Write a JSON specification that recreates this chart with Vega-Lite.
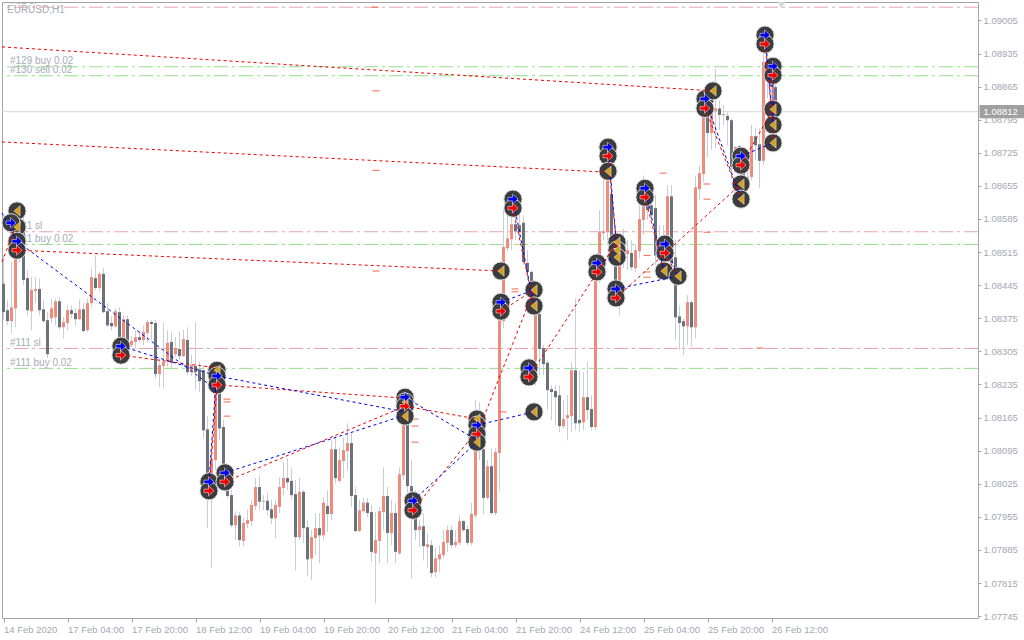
{
"$schema":"https://vega.github.io/schema/vega-lite/v6.json",
"width":976,"height":616,"autosize":"none",
"padding":{"left":2,"top":2,"right":46,"bottom":22},
"background":"#ffffff",
"config":{"view":{"stroke":"#a4a4a4","strokeWidth":1},"axis":{"grid":false,"domain":false,"title":null,"tickColor":"#a4a4a4","labelColor":"#a2a8b2","labelFont":"Liberation Sans","labelFontSize":9.5,"labelOverlap":false,"labelBound":false,"labelFlush":false},"axisY":{"tickSize":3,"labelPadding":2},"axisX":{"tickSize":4,"labelPadding":2,"labelAlign":"left","labelBaseline":"top"}},
"datasets":{
"bars":[
{"i":0,"o":1.08448,"h":1.08508,"l":1.08371,"c":1.08388},{"i":1,"o":1.08392,"h":1.08413,"l":1.0836,"c":1.08369},{"i":2,"o":1.08369,"h":1.08494,"l":1.08344,"c":1.08398},{"i":3,"o":1.08396,"h":1.08593,"l":1.08356,"c":1.08513},{"i":4,"o":1.08508,"h":1.08593,"l":1.08494,"c":1.08557},{"i":5,"o":1.08577,"h":1.08614,"l":1.08445,"c":1.08456},{"i":6,"o":1.0846,"h":1.08477,"l":1.08381,"c":1.08392},{"i":7,"o":1.0839,"h":1.08462,"l":1.0835,"c":1.08435},{"i":8,"o":1.08433,"h":1.08462,"l":1.08407,"c":1.08437},{"i":9,"o":1.08437,"h":1.08458,"l":1.08381,"c":1.08392},
{"i":10,"o":1.08394,"h":1.08413,"l":1.08365,"c":1.08369},{"i":11,"o":1.08371,"h":1.08388,"l":1.08291,"c":1.08299},{"i":12,"o":1.08375,"h":1.08417,"l":1.08365,"c":1.08396},{"i":13,"o":1.08377,"h":1.08417,"l":1.0836,"c":1.08411},{"i":14,"o":1.08411,"h":1.08419,"l":1.0835,"c":1.08356},{"i":15,"o":1.08356,"h":1.08377,"l":1.08333,"c":1.08367},{"i":16,"o":1.08365,"h":1.08402,"l":1.0835,"c":1.08392},{"i":17,"o":1.08392,"h":1.08402,"l":1.08375,"c":1.08384},{"i":18,"o":1.08386,"h":1.08396,"l":1.0836,"c":1.08373},{"i":19,"o":1.08373,"h":1.08415,"l":1.08371,"c":1.08394},
{"i":20,"o":1.08394,"h":1.08407,"l":1.08346,"c":1.08348},{"i":21,"o":1.0835,"h":1.08417,"l":1.08346,"c":1.08407},{"i":22,"o":1.08407,"h":1.08481,"l":1.08398,"c":1.08462},{"i":23,"o":1.0846,"h":1.08508,"l":1.08435,"c":1.08439},{"i":24,"o":1.08439,"h":1.08473,"l":1.08431,"c":1.08469},{"i":25,"o":1.08469,"h":1.08481,"l":1.08386,"c":1.08388},{"i":26,"o":1.0839,"h":1.08407,"l":1.08356,"c":1.0836},{"i":27,"o":1.08365,"h":1.08379,"l":1.0835,"c":1.08358},{"i":28,"o":1.08358,"h":1.08396,"l":1.08354,"c":1.0839},{"i":29,"o":1.08388,"h":1.08398,"l":1.08323,"c":1.08329},
{"i":30,"o":1.08291,"h":1.08381,"l":1.08287,"c":1.08373},{"i":31,"o":1.08373,"h":1.08381,"l":1.08304,"c":1.08314},{"i":32,"o":1.08318,"h":1.08337,"l":1.08314,"c":1.08327},{"i":33,"o":1.08325,"h":1.0835,"l":1.08312,"c":1.08335},{"i":34,"o":1.08335,"h":1.0835,"l":1.08325,"c":1.08329},{"i":35,"o":1.08329,"h":1.0836,"l":1.08318,"c":1.08346},{"i":36,"o":1.08344,"h":1.08371,"l":1.08325,"c":1.08367},{"i":37,"o":1.08367,"h":1.08371,"l":1.08329,"c":1.08363},{"i":38,"o":1.08365,"h":1.08371,"l":1.08248,"c":1.08257},{"i":39,"o":1.08257,"h":1.08291,"l":1.08229,"c":1.08276},
{"i":40,"o":1.08274,"h":1.08365,"l":1.08227,"c":1.08283},{"i":41,"o":1.08283,"h":1.0835,"l":1.08272,"c":1.08323},{"i":42,"o":1.08325,"h":1.08346,"l":1.0827,"c":1.08281},{"i":43,"o":1.08299,"h":1.08335,"l":1.08293,"c":1.08312},{"i":44,"o":1.0831,"h":1.08346,"l":1.08287,"c":1.08295},{"i":45,"o":1.08295,"h":1.0835,"l":1.08293,"c":1.08331},{"i":46,"o":1.08329,"h":1.08356,"l":1.08255,"c":1.08261},{"i":47,"o":1.08261,"h":1.08297,"l":1.08253,"c":1.08276},{"i":48,"o":1.08274,"h":1.08367,"l":1.08223,"c":1.08261},{"i":49,"o":1.08267,"h":1.08283,"l":1.08219,"c":1.08242},
{"i":50,"o":1.08265,"h":1.08276,"l":1.08121,"c":1.08138},{"i":51,"o":1.0814,"h":1.08168,"l":1.07931,"c":1.08022},{"i":52,"o":1.08018,"h":1.08117,"l":1.07848,"c":1.08077},{"i":53,"o":1.08075,"h":1.08255,"l":1.08054,"c":1.08231},{"i":54,"o":1.08223,"h":1.08261,"l":1.08117,"c":1.08142},{"i":55,"o":1.08145,"h":1.0816,"l":1.08037,"c":1.08048},{"i":56,"o":1.08033,"h":1.08043,"l":1.07995,"c":1.07999},{"i":57,"o":1.08001,"h":1.08012,"l":1.07933,"c":1.07937},{"i":58,"o":1.07937,"h":1.07967,"l":1.07906,"c":1.07958},{"i":59,"o":1.07958,"h":1.07965,"l":1.07893,"c":1.07906},
{"i":60,"o":1.07904,"h":1.07954,"l":1.07893,"c":1.07942},{"i":61,"o":1.0794,"h":1.07971,"l":1.07931,"c":1.07948},{"i":62,"o":1.07946,"h":1.07991,"l":1.07935,"c":1.0798},{"i":63,"o":1.07978,"h":1.08037,"l":1.07969,"c":1.08018},{"i":64,"o":1.08018,"h":1.08043,"l":1.07969,"c":1.07987},{"i":65,"o":1.07987,"h":1.08001,"l":1.07969,"c":1.07989},{"i":66,"o":1.07989,"h":1.08006,"l":1.07958,"c":1.07969},{"i":67,"o":1.07971,"h":1.07991,"l":1.0794,"c":1.07952},{"i":68,"o":1.07952,"h":1.07991,"l":1.0791,"c":1.0798},{"i":69,"o":1.07976,"h":1.08039,"l":1.07963,"c":1.08018},
{"i":70,"o":1.08016,"h":1.08071,"l":1.08001,"c":1.08037},{"i":71,"o":1.08037,"h":1.08079,"l":1.08012,"c":1.08028},{"i":72,"o":1.08031,"h":1.08058,"l":1.07991,"c":1.08001},{"i":73,"o":1.08003,"h":1.08033,"l":1.07842,"c":1.07912},{"i":74,"o":1.07912,"h":1.08037,"l":1.07906,"c":1.08008},{"i":75,"o":1.08008,"h":1.08012,"l":1.079,"c":1.07931},{"i":76,"o":1.07933,"h":1.07948,"l":1.07831,"c":1.07865},{"i":77,"o":1.07867,"h":1.07927,"l":1.07821,"c":1.07912},{"i":78,"o":1.0791,"h":1.07963,"l":1.07874,"c":1.07931},{"i":79,"o":1.07931,"h":1.07963,"l":1.07857,"c":1.07916},
{"i":80,"o":1.07916,"h":1.07997,"l":1.07906,"c":1.07985},{"i":81,"o":1.07978,"h":1.08012,"l":1.07923,"c":1.07961},{"i":82,"o":1.07961,"h":1.08117,"l":1.07948,"c":1.08098},{"i":83,"o":1.08098,"h":1.08127,"l":1.08026,"c":1.08037},{"i":84,"o":1.08031,"h":1.08102,"l":1.08026,"c":1.08075},{"i":85,"o":1.08073,"h":1.08123,"l":1.08037,"c":1.08096},{"i":86,"o":1.08094,"h":1.08153,"l":1.08054,"c":1.08111},{"i":87,"o":1.08111,"h":1.08132,"l":1.07976,"c":1.07999},{"i":88,"o":1.08001,"h":1.08018,"l":1.07923,"c":1.07925},{"i":89,"o":1.07925,"h":1.07991,"l":1.07923,"c":1.07969},
{"i":90,"o":1.07967,"h":1.07995,"l":1.07963,"c":1.07985},{"i":91,"o":1.07985,"h":1.07995,"l":1.07954,"c":1.07963},{"i":92,"o":1.07965,"h":1.0798,"l":1.07859,"c":1.07881},{"i":93,"o":1.07878,"h":1.07965,"l":1.07772,"c":1.07906},{"i":94,"o":1.07904,"h":1.07976,"l":1.07857,"c":1.07967},{"i":95,"o":1.07965,"h":1.0806,"l":1.07927,"c":1.07999},{"i":96,"o":1.07999,"h":1.08018,"l":1.07857,"c":1.07921},{"i":97,"o":1.07921,"h":1.07991,"l":1.07895,"c":1.07963},{"i":98,"o":1.07963,"h":1.07985,"l":1.07857,"c":1.07881},{"i":99,"o":1.07878,"h":1.0806,"l":1.07874,"c":1.08045},
{"i":100,"o":1.08043,"h":1.08191,"l":1.08033,"c":1.08174},{"i":101,"o":1.0816,"h":1.08181,"l":1.08001,"c":1.0802},{"i":102,"o":1.0802,"h":1.08075,"l":1.07825,"c":1.07965},{"i":103,"o":1.07965,"h":1.08012,"l":1.07906,"c":1.07927},{"i":104,"o":1.07927,"h":1.07948,"l":1.07891,"c":1.07935},{"i":105,"o":1.07935,"h":1.07963,"l":1.07863,"c":1.07893},{"i":106,"o":1.07891,"h":1.07921,"l":1.07848,"c":1.07897},{"i":107,"o":1.07895,"h":1.07906,"l":1.07827,"c":1.07836},{"i":108,"o":1.07838,"h":1.07891,"l":1.07827,"c":1.07867},{"i":109,"o":1.07865,"h":1.07895,"l":1.07838,"c":1.07876},
{"i":110,"o":1.07874,"h":1.07927,"l":1.07867,"c":1.07902},{"i":111,"o":1.079,"h":1.07937,"l":1.07881,"c":1.07927},{"i":112,"o":1.07927,"h":1.07937,"l":1.07889,"c":1.07895},{"i":113,"o":1.07895,"h":1.07927,"l":1.07889,"c":1.07902},{"i":114,"o":1.079,"h":1.07958,"l":1.07895,"c":1.07946},{"i":115,"o":1.07946,"h":1.07948,"l":1.07923,"c":1.07927},{"i":116,"o":1.07929,"h":1.07937,"l":1.07895,"c":1.079},{"i":117,"o":1.079,"h":1.07985,"l":1.07895,"c":1.07961},{"i":118,"o":1.07958,"h":1.08202,"l":1.07952,"c":1.08149},{"i":119,"o":1.08149,"h":1.08198,"l":1.08075,"c":1.08098},
{"i":120,"o":1.08098,"h":1.08127,"l":1.07961,"c":1.07995},{"i":121,"o":1.07995,"h":1.08075,"l":1.07991,"c":1.08062},{"i":122,"o":1.08062,"h":1.081,"l":1.07961,"c":1.07963},{"i":123,"o":1.07963,"h":1.081,"l":1.07958,"c":1.08092},{"i":124,"o":1.0809,"h":1.08424,"l":1.08008,"c":1.08371},{"i":125,"o":1.08369,"h":1.08604,"l":1.08354,"c":1.08526},{"i":126,"o":1.08523,"h":1.08614,"l":1.08515,"c":1.08544},{"i":127,"o":1.08542,"h":1.08599,"l":1.08519,"c":1.08574},{"i":128,"o":1.08574,"h":1.08636,"l":1.0854,"c":1.08559},{"i":129,"o":1.08572,"h":1.08604,"l":1.0854,"c":1.08557},
{"i":130,"o":1.08577,"h":1.08593,"l":1.08488,"c":1.08494},{"i":131,"o":1.08492,"h":1.08519,"l":1.08456,"c":1.08473},{"i":132,"o":1.08473,"h":1.08477,"l":1.08402,"c":1.08413},{"i":133,"o":1.08285,"h":1.08413,"l":1.08233,"c":1.08384},{"i":134,"o":1.08384,"h":1.08392,"l":1.08255,"c":1.0831},{"i":135,"o":1.08312,"h":1.08318,"l":1.08255,"c":1.08278},{"i":136,"o":1.08281,"h":1.08287,"l":1.08181,"c":1.08223},{"i":137,"o":1.08225,"h":1.08233,"l":1.0816,"c":1.08219},{"i":138,"o":1.08221,"h":1.08233,"l":1.08149,"c":1.08208},{"i":139,"o":1.08212,"h":1.08233,"l":1.08134,"c":1.08147},
{"i":140,"o":1.08147,"h":1.08202,"l":1.08142,"c":1.08162},{"i":141,"o":1.08164,"h":1.08212,"l":1.08117,"c":1.0817},{"i":142,"o":1.08168,"h":1.08283,"l":1.08134,"c":1.08265},{"i":143,"o":1.08265,"h":1.08417,"l":1.08138,"c":1.08153},{"i":144,"o":1.0816,"h":1.08265,"l":1.08134,"c":1.08153},{"i":145,"o":1.08155,"h":1.08261,"l":1.08138,"c":1.08208},{"i":146,"o":1.08208,"h":1.08283,"l":1.0816,"c":1.08181},{"i":147,"o":1.08183,"h":1.08212,"l":1.08138,"c":1.08145},{"i":148,"o":1.08145,"h":1.08502,"l":1.08138,"c":1.08462},{"i":149,"o":1.08462,"h":1.08604,"l":1.0845,"c":1.08557},
{"i":150,"o":1.08555,"h":1.08677,"l":1.0854,"c":1.08559},{"i":151,"o":1.08557,"h":1.08699,"l":1.0854,"c":1.08667},{"i":152,"o":1.08638,"h":1.08667,"l":1.08498,"c":1.0853},{"i":153,"o":1.0853,"h":1.08572,"l":1.08413,"c":1.08435},{"i":154,"o":1.0842,"h":1.08523,"l":1.08381,"c":1.08498},{"i":155,"o":1.08523,"h":1.08565,"l":1.08481,"c":1.08513},{"i":156,"o":1.08511,"h":1.0854,"l":1.08477,"c":1.08519},{"i":157,"o":1.08513,"h":1.0854,"l":1.08477,"c":1.08483},{"i":158,"o":1.08481,"h":1.0853,"l":1.08473,"c":1.08519},{"i":159,"o":1.08517,"h":1.08614,"l":1.08502,"c":1.08585},
{"i":160,"o":1.08583,"h":1.08677,"l":1.08551,"c":1.08625},{"i":161,"o":1.08625,"h":1.08646,"l":1.08583,"c":1.08604},{"i":162,"o":1.08614,"h":1.08646,"l":1.08583,"c":1.08593},{"i":163,"o":1.08608,"h":1.08636,"l":1.08488,"c":1.08508},{"i":164,"o":1.08508,"h":1.08572,"l":1.08502,"c":1.08536},{"i":165,"o":1.0854,"h":1.08572,"l":1.08488,"c":1.08498},{"i":166,"o":1.08515,"h":1.08657,"l":1.08508,"c":1.08633},{"i":167,"o":1.08633,"h":1.08657,"l":1.08488,"c":1.08492},{"i":168,"o":1.08504,"h":1.0854,"l":1.08329,"c":1.08377},{"i":169,"o":1.08379,"h":1.08402,"l":1.08308,"c":1.08365},
{"i":170,"o":1.08369,"h":1.08375,"l":1.08297,"c":1.08358},{"i":171,"o":1.08358,"h":1.08424,"l":1.08318,"c":1.08409},{"i":172,"o":1.08409,"h":1.08413,"l":1.08314,"c":1.08356},{"i":173,"o":1.08356,"h":1.08677,"l":1.08333,"c":1.08652},{"i":174,"o":1.08648,"h":1.08699,"l":1.08625,"c":1.08682},{"i":175,"o":1.0868,"h":1.08826,"l":1.08663,"c":1.08811},{"i":176,"o":1.08811,"h":1.08826,"l":1.08716,"c":1.08767},{"i":177,"o":1.08767,"h":1.08836,"l":1.08731,"c":1.08815},{"i":178,"o":1.08813,"h":1.08902,"l":1.08735,"c":1.08819},{"i":179,"o":1.08819,"h":1.08836,"l":1.08773,"c":1.08805},
{"i":180,"o":1.08805,"h":1.08826,"l":1.08784,"c":1.08807},{"i":181,"o":1.08803,"h":1.08811,"l":1.08741,"c":1.08794},{"i":182,"o":1.08794,"h":1.08798,"l":1.08672,"c":1.08695},{"i":183,"o":1.08695,"h":1.08739,"l":1.08688,"c":1.08737},{"i":184,"o":1.08739,"h":1.08741,"l":1.08667,"c":1.08682},{"i":185,"o":1.08725,"h":1.08731,"l":1.08625,"c":1.08667},{"i":186,"o":1.08663,"h":1.08684,"l":1.08646,"c":1.08674},{"i":187,"o":1.08674,"h":1.08784,"l":1.08667,"c":1.0876},{"i":188,"o":1.0876,"h":1.08777,"l":1.0871,"c":1.08741},{"i":189,"o":1.08743,"h":1.08777,"l":1.0865,"c":1.08708},
{"i":190,"o":1.08708,"h":1.08963,"l":1.08699,"c":1.08917},{"i":191,"o":1.08917,"h":1.08942,"l":1.08841,"c":1.08889},{"i":192,"o":1.08889,"h":1.089,"l":1.08826,"c":1.08864},{"i":193,"o":1.08864,"h":1.0887,"l":1.08731,"c":1.08812}
],
"levels":[{"p":1.09033,"k":"sl"},{"p":1.08907,"k":"tp"},{"p":1.08888,"k":"tp"},{"p":1.08558,"k":"sl"},{"p":1.08531,"k":"tp"},{"p":1.08311,"k":"sl"},{"p":1.08269,"k":"tp"}],
"trades":[
{"s":"r1","k":"red","i":-0.375,"p":1.08949},{"s":"r1","k":"red","i":177.375,"p":1.08856},
{"s":"r2","k":"red","i":-0.375,"p":1.08748},{"s":"r2","k":"red","i":151.125,"p":1.08684},
{"s":"r3","k":"red","i":3.375,"p":1.08519},{"s":"r3","k":"red","i":124.375,"p":1.08475},
{"s":"r4","k":"red","i":29.375,"p":1.08297},{"s":"r4","k":"red","i":53.375,"p":1.0827},
{"s":"r5","k":"red","i":51.375,"p":1.0801},{"s":"r5","k":"red","i":53.375,"p":1.08234},
{"s":"r6","k":"red","i":53.375,"p":1.08234},{"s":"r6","k":"red","i":100.375,"p":1.08206},
{"s":"r7","k":"red","i":55.375,"p":1.08029},{"s":"r7","k":"red","i":100.375,"p":1.08189},
{"s":"r8","k":"red","i":100.375,"p":1.08189},{"s":"r8","k":"red","i":118.375,"p":1.08162},
{"s":"r9","k":"red","i":102.375,"p":1.07969},{"s":"r9","k":"red","i":118.375,"p":1.08138},
{"s":"r10","k":"red","i":118.375,"p":1.0813},{"s":"r10","k":"red","i":132.625,"p":1.08435},
{"s":"r11","k":"red","i":124.375,"p":1.0839},{"s":"r11","k":"red","i":132.625,"p":1.08435},
{"s":"r12","k":"red","i":127.375,"p":1.08608},{"s":"r12","k":"red","i":132.625,"p":1.08401},
{"s":"r13","k":"red","i":131.375,"p":1.08251},{"s":"r13","k":"red","i":153.375,"p":1.08536},
{"s":"r14","k":"red","i":148.375,"p":1.08473},{"s":"r14","k":"red","i":153.375,"p":1.08536},
{"s":"r15","k":"red","i":151.125,"p":1.08718},{"s":"r15","k":"red","i":153.375,"p":1.08519},
{"s":"r16","k":"red","i":153.125,"p":1.08418},{"s":"r16","k":"red","i":184.375,"p":1.08659},
{"s":"r17","k":"red","i":160.375,"p":1.08631},{"s":"r17","k":"red","i":165.125,"p":1.08475},
{"s":"r18","k":"red","i":165.375,"p":1.08513},{"s":"r18","k":"red","i":168.625,"p":1.08464},
{"s":"r19","k":"red","i":175.375,"p":1.08819},{"s":"r19","k":"red","i":184.375,"p":1.08627},
{"s":"r20","k":"red","i":184.375,"p":1.08699},{"s":"r20","k":"red","i":192.375,"p":1.08817},
{"s":"r21","k":"red","i":190.375,"p":1.08955},{"s":"r21","k":"red","i":192.375,"p":1.08784},
{"s":"r22","k":"red","i":192.375,"p":1.08889},{"s":"r22","k":"red","i":192.375,"p":1.08746},
{"s":"r23","k":"red","i":-0.375,"p":1.08494},{"s":"r23","k":"red","i":3.375,"p":1.08578},
{"s":"b1","k":"blue","i":3.375,"p":1.08538},{"s":"b1","k":"blue","i":53.375,"p":1.08223},
{"s":"b2","k":"blue","i":29.375,"p":1.08316},{"s":"b2","k":"blue","i":53.375,"p":1.08253},
{"s":"b3","k":"blue","i":51.375,"p":1.08029},{"s":"b3","k":"blue","i":53.375,"p":1.0827},
{"s":"b4","k":"blue","i":53.375,"p":1.08253},{"s":"b4","k":"blue","i":100.375,"p":1.08177},
{"s":"b5","k":"blue","i":55.375,"p":1.08048},{"s":"b5","k":"blue","i":100.375,"p":1.0817},
{"s":"b6","k":"blue","i":100.375,"p":1.08208},{"s":"b6","k":"blue","i":118.375,"p":1.08117},
{"s":"b7","k":"blue","i":102.375,"p":1.07989},{"s":"b7","k":"blue","i":118.375,"p":1.08113},
{"s":"b8","k":"blue","i":118.375,"p":1.08149},{"s":"b8","k":"blue","i":132.625,"p":1.08177},
{"s":"b9","k":"blue","i":124.375,"p":1.08409},{"s":"b9","k":"blue","i":132.625,"p":1.08435},
{"s":"b10","k":"blue","i":127.375,"p":1.08627},{"s":"b10","k":"blue","i":132.625,"p":1.08401},
{"s":"b11","k":"blue","i":148.375,"p":1.08492},{"s":"b11","k":"blue","i":153.375,"p":1.08504},
{"s":"b12","k":"blue","i":151.125,"p":1.08737},{"s":"b12","k":"blue","i":153.375,"p":1.08519},
{"s":"b13","k":"blue","i":153.125,"p":1.08437},{"s":"b13","k":"blue","i":168.625,"p":1.08464},
{"s":"b14","k":"blue","i":160.375,"p":1.0865},{"s":"b14","k":"blue","i":165.125,"p":1.08475},
{"s":"b15","k":"blue","i":165.375,"p":1.08532},{"s":"b15","k":"blue","i":168.625,"p":1.08464},
{"s":"b16","k":"blue","i":175.375,"p":1.08839},{"s":"b16","k":"blue","i":184.375,"p":1.08627},
{"s":"b17","k":"blue","i":184.375,"p":1.08718},{"s":"b17","k":"blue","i":192.375,"p":1.08746},
{"s":"b18","k":"blue","i":190.375,"p":1.08974},{"s":"b18","k":"blue","i":192.375,"p":1.08784},
{"s":"b19","k":"blue","i":192.375,"p":1.08908},{"s":"b19","k":"blue","i":192.375,"p":1.08784},
{"s":"b20","k":"blue","i":-0.375,"p":1.08598},{"s":"b20","k":"blue","i":3.375,"p":1.08538}
],
"icons":[
{"k":"gold","i":3.375,"p":1.08602},{"k":"gold","i":3.375,"p":1.08568},{"k":"blue","i":1.875,"p":1.08577},{"k":"blue","i":3.375,"p":1.08538},{"k":"red","i":3.375,"p":1.08519},
{"k":"blue","i":29.375,"p":1.08316},{"k":"red","i":29.375,"p":1.08297},
{"k":"gold","i":53.375,"p":1.08265},{"k":"blue","i":53.375,"p":1.08253},{"k":"red","i":53.375,"p":1.08234},
{"k":"blue","i":51.375,"p":1.08029},{"k":"red","i":51.375,"p":1.0801},{"k":"blue","i":55.375,"p":1.08048},{"k":"red","i":55.375,"p":1.08029},
{"k":"blue","i":100.375,"p":1.08208},{"k":"gold","i":100.375,"p":1.08198},{"k":"red","i":100.375,"p":1.08189},{"k":"gold","i":100.375,"p":1.08168},
{"k":"blue","i":102.375,"p":1.07989},{"k":"red","i":102.375,"p":1.07969},
{"k":"gold","i":118.375,"p":1.08162},{"k":"blue","i":118.375,"p":1.08149},{"k":"red","i":118.375,"p":1.0813},{"k":"gold","i":118.375,"p":1.08113},
{"k":"gold","i":124.375,"p":1.08475},{"k":"blue","i":124.375,"p":1.08409},{"k":"red","i":124.375,"p":1.0839},
{"k":"blue","i":127.375,"p":1.08627},{"k":"red","i":127.375,"p":1.08608},
{"k":"gold","i":132.625,"p":1.08435},{"k":"gold","i":132.625,"p":1.08401},{"k":"gold","i":132.625,"p":1.08177},
{"k":"blue","i":131.375,"p":1.0827},{"k":"red","i":131.375,"p":1.08251},
{"k":"blue","i":148.375,"p":1.08492},{"k":"red","i":148.375,"p":1.08473},
{"k":"blue","i":151.125,"p":1.08737},{"k":"red","i":151.125,"p":1.08718},{"k":"gold","i":151.125,"p":1.08686},
{"k":"gold","i":153.375,"p":1.08536},{"k":"gold","i":153.375,"p":1.08519},{"k":"gold","i":153.375,"p":1.08504},
{"k":"blue","i":153.125,"p":1.08437},{"k":"red","i":153.125,"p":1.08418},
{"k":"blue","i":160.375,"p":1.0865},{"k":"red","i":160.375,"p":1.08631},
{"k":"blue","i":165.375,"p":1.08532},{"k":"red","i":165.375,"p":1.08513},{"k":"gold","i":165.125,"p":1.08475},{"k":"gold","i":168.625,"p":1.08464},
{"k":"blue","i":175.375,"p":1.08839},{"k":"red","i":175.375,"p":1.08819},{"k":"gold","i":177.375,"p":1.08856},
{"k":"blue","i":184.375,"p":1.08718},{"k":"red","i":184.375,"p":1.08699},{"k":"gold","i":184.375,"p":1.08659},{"k":"gold","i":184.375,"p":1.08627},
{"k":"blue","i":190.375,"p":1.08974},{"k":"red","i":190.375,"p":1.08955},
{"k":"blue","i":192.375,"p":1.08908},{"k":"red","i":192.375,"p":1.08889},{"k":"gold","i":192.375,"p":1.08817},{"k":"gold","i":192.375,"p":1.08784},{"k":"gold","i":192.375,"p":1.08746}
],
"dashes":[
{"i":93.125,"p":1.08856},{"i":93.125,"p":1.08688},{"i":93.125,"p":1.08475},{"i":55.875,"p":1.08204},{"i":55.875,"p":1.08198},{"i":55.875,"p":1.08168},{"i":102.875,"p":1.08162},{"i":102.875,"p":1.08147},{"i":102.875,"p":1.08113},{"i":127.875,"p":1.08437},{"i":127.875,"p":1.08431},{"i":124.875,"p":1.08177},{"i":160.875,"p":1.08508},{"i":160.875,"p":1.08473},{"i":160.875,"p":1.08462},{"i":175.875,"p":1.08659},{"i":175.875,"p":1.08627},{"i":175.875,"p":1.08557},{"i":151.875,"p":1.08536},{"i":151.875,"p":1.08502},{"i":164.875,"p":1.08682},{"i":189.125,"p":1.08312},{"i":92.875,"p":1.09033}
],
"labels":[
{"i":0.875,"p":1.09027,"t":"EURUSD,H1"},{"i":1.625,"p":1.09046,"t":"#62 sl"},{"i":1.625,"p":1.08919,"t":"#129 buy 0.02"},{"i":1.625,"p":1.089,"t":"#130 sell 0.02"},{"i":1.625,"p":1.0857,"t":"#131 sl"},{"i":1.625,"p":1.08542,"t":"#131 buy 0.02"},{"i":1.625,"p":1.08322,"t":"#111 sl"},{"i":1.625,"p":1.0828,"t":"#111 buy 0.02"}
],
"price":[{"i":244,"i2":256,"p":1.08826,"p2":1.08798}],
"priceText":[{"i":245,"p":1.08812,"t":"1.08812"}],
"marker":[{"i":194.5,"p":1.09037}]
},
"layer":[
{"data":{"name":"levels"},"transform":[{"filter":"datum.k=='sl'"}],"mark":{"type":"rule","stroke":"#e9a3ad","strokeWidth":1,"strokeDash":[14,4,3,4]},
 "encoding":{"y":{"field":"p","type":"quantitative","scale":{"domain":[1.07741,1.09044],"nice":false,"zero":false},"axis":{"orient":"right","format":".5f","values":[1.09005,1.08935,1.08865,1.08795,1.08725,1.08655,1.08585,1.08515,1.08445,1.08375,1.08305,1.08235,1.08165,1.08095,1.08025,1.07955,1.07885,1.07815,1.07745]}}}},
{"data":{"name":"levels"},"transform":[{"filter":"datum.k=='tp'"}],"mark":{"type":"rule","stroke":"#93e08a","strokeWidth":1,"strokeDash":[14,4,3,4]},
 "encoding":{"y":{"field":"p","type":"quantitative","scale":{"domain":[1.07741,1.09044],"nice":false,"zero":false},"axis":{"orient":"right","format":".5f","values":[1.09005,1.08935,1.08865,1.08795,1.08725,1.08655,1.08585,1.08515,1.08445,1.08375,1.08305,1.08235,1.08165,1.08095,1.08025,1.07955,1.07885,1.07815,1.07745]}}}},
{"data":{"values":[{"p":1.08812}]},"mark":{"type":"rule","stroke":"#d4d6d8","strokeWidth":1},
 "encoding":{"y":{"field":"p","type":"quantitative","scale":{"domain":[1.07741,1.09044],"nice":false,"zero":false},"axis":{"orient":"right","format":".5f","values":[1.09005,1.08935,1.08865,1.08795,1.08725,1.08655,1.08585,1.08515,1.08445,1.08375,1.08305,1.08235,1.08165,1.08095,1.08025,1.07955,1.07885,1.07815,1.07745]}}}},
{"encoding":{
 "x":{"field":"i","type":"quantitative","scale":{"domain":[-0.375,243.625],"nice":false,"zero":false,"padding":0},"axis":{"orient":"bottom","values":[0,16,32,48,64,80,96,112,128,144,160,176,192],"labelExpr":"['14 Feb 2020','17 Feb 04:00','17 Feb 20:00','18 Feb 12:00','19 Feb 04:00','19 Feb 20:00','20 Feb 12:00','21 Feb 04:00','21 Feb 20:00','24 Feb 12:00','25 Feb 04:00','25 Feb 20:00','26 Feb 12:00'][datum.value/16]"}},
 "y":{"field":"p","type":"quantitative","scale":{"domain":[1.07741,1.09044],"nice":false,"zero":false},"axis":{"orient":"right","format":".5f","values":[1.09005,1.08935,1.08865,1.08795,1.08725,1.08655,1.08585,1.08515,1.08445,1.08375,1.08305,1.08235,1.08165,1.08095,1.08025,1.07955,1.07885,1.07815,1.07745]}}},
 "layer":[
 {"data":{"name":"bars"},"mark":{"type":"rule","stroke":"#c9cdd8","strokeWidth":1},
  "encoding":{"y":{"field":"h","type":"quantitative","scale":{"domain":[1.07741,1.09044],"nice":false,"zero":false},"axis":{"orient":"right","format":".5f","values":[1.09005,1.08935,1.08865,1.08795,1.08725,1.08655,1.08585,1.08515,1.08445,1.08375,1.08305,1.08235,1.08165,1.08095,1.08025,1.07955,1.07885,1.07815,1.07745]}},"y2":{"field":"l"}}},
 {"data":{"name":"bars"},"mark":{"type":"bar","size":3,"orient":"vertical"},
  "encoding":{"y":{"field":"o","type":"quantitative","scale":{"domain":[1.07741,1.09044],"nice":false,"zero":false},"axis":{"orient":"right","format":".5f","values":[1.09005,1.08935,1.08865,1.08795,1.08725,1.08655,1.08585,1.08515,1.08445,1.08375,1.08305,1.08235,1.08165,1.08095,1.08025,1.07955,1.07885,1.07815,1.07745]}},"y2":{"field":"c"},
  "color":{"condition":{"test":"datum.c>=datum.o","value":"#ee8b7c"},"value":"#6b7279"}}},
 {"data":{"name":"labels"},"mark":{"type":"text","align":"left","baseline":"middle","font":"Liberation Sans","fontSize":10,"fill":"#a6acb6","clip":true},"encoding":{"text":{"field":"t"}}},
 {"data":{"name":"dashes"},"mark":{"type":"tick","orient":"horizontal","size":7,"thickness":1,"color":"#f2654c","opacity":1}},
 {"data":{"name":"icons"},"mark":{"type":"point","shape":"circle","size":330,"filled":true,"fill":"#3c3c3c","stroke":"#dcdde4","strokeWidth":1,"opacity":1}},
 {"data":{"name":"trades"},"transform":[{"filter":"datum.k=='red'"}],"mark":{"type":"line","stroke":"#f00000","strokeWidth":1,"strokeDash":[3,3]},"encoding":{"detail":{"field":"s"}}},
 {"data":{"name":"trades"},"transform":[{"filter":"datum.k=='blue'"}],"mark":{"type":"line","stroke":"#0000e6","strokeWidth":1,"strokeDash":[3,3]},"encoding":{"detail":{"field":"s"}}},
 {"data":{"name":"icons"},"transform":[{"filter":"datum.k=='gold'"}],"mark":{"type":"point","shape":"M-0.6,0L0.6,-1L0.6,1Z","size":110,"filled":true,"fill":"#d4a022","stroke":"#ffffff","strokeWidth":0.4,"opacity":1}},
 {"data":{"name":"icons"},"transform":[{"filter":"datum.k=='blue'"}],"mark":{"type":"point","shape":"M-1,-0.35L-0.1,-0.35L-0.1,-1L1,0L-0.1,1L-0.1,0.35L-1,0.35Z","size":100,"filled":true,"fill":"#0000f0","stroke":"#ffffff","strokeWidth":0.5,"opacity":1}},
 {"data":{"name":"icons"},"transform":[{"filter":"datum.k=='red'"}],"mark":{"type":"point","shape":"M-1,-0.35L-0.1,-0.35L-0.1,-1L1,0L-0.1,1L-0.1,0.35L-1,0.35Z","size":100,"filled":true,"fill":"#f00000","stroke":"#ffffff","strokeWidth":0.5,"opacity":1}},
 {"data":{"name":"marker"},"mark":{"type":"point","shape":"triangle-down","size":60,"filled":true,"fill":"#d6d8da","opacity":1}},
 {"data":{"name":"price"},"mark":{"type":"rect","fill":"#a0a0a0"},"encoding":{"x2":{"field":"i2"},"y2":{"field":"p2"}}},
 {"data":{"name":"priceText"},"mark":{"type":"text","align":"left","baseline":"middle","font":"Liberation Sans","fontSize":9.5,"fill":"#ffffff"},"encoding":{"text":{"field":"t"}}}
 ]}
]
}
